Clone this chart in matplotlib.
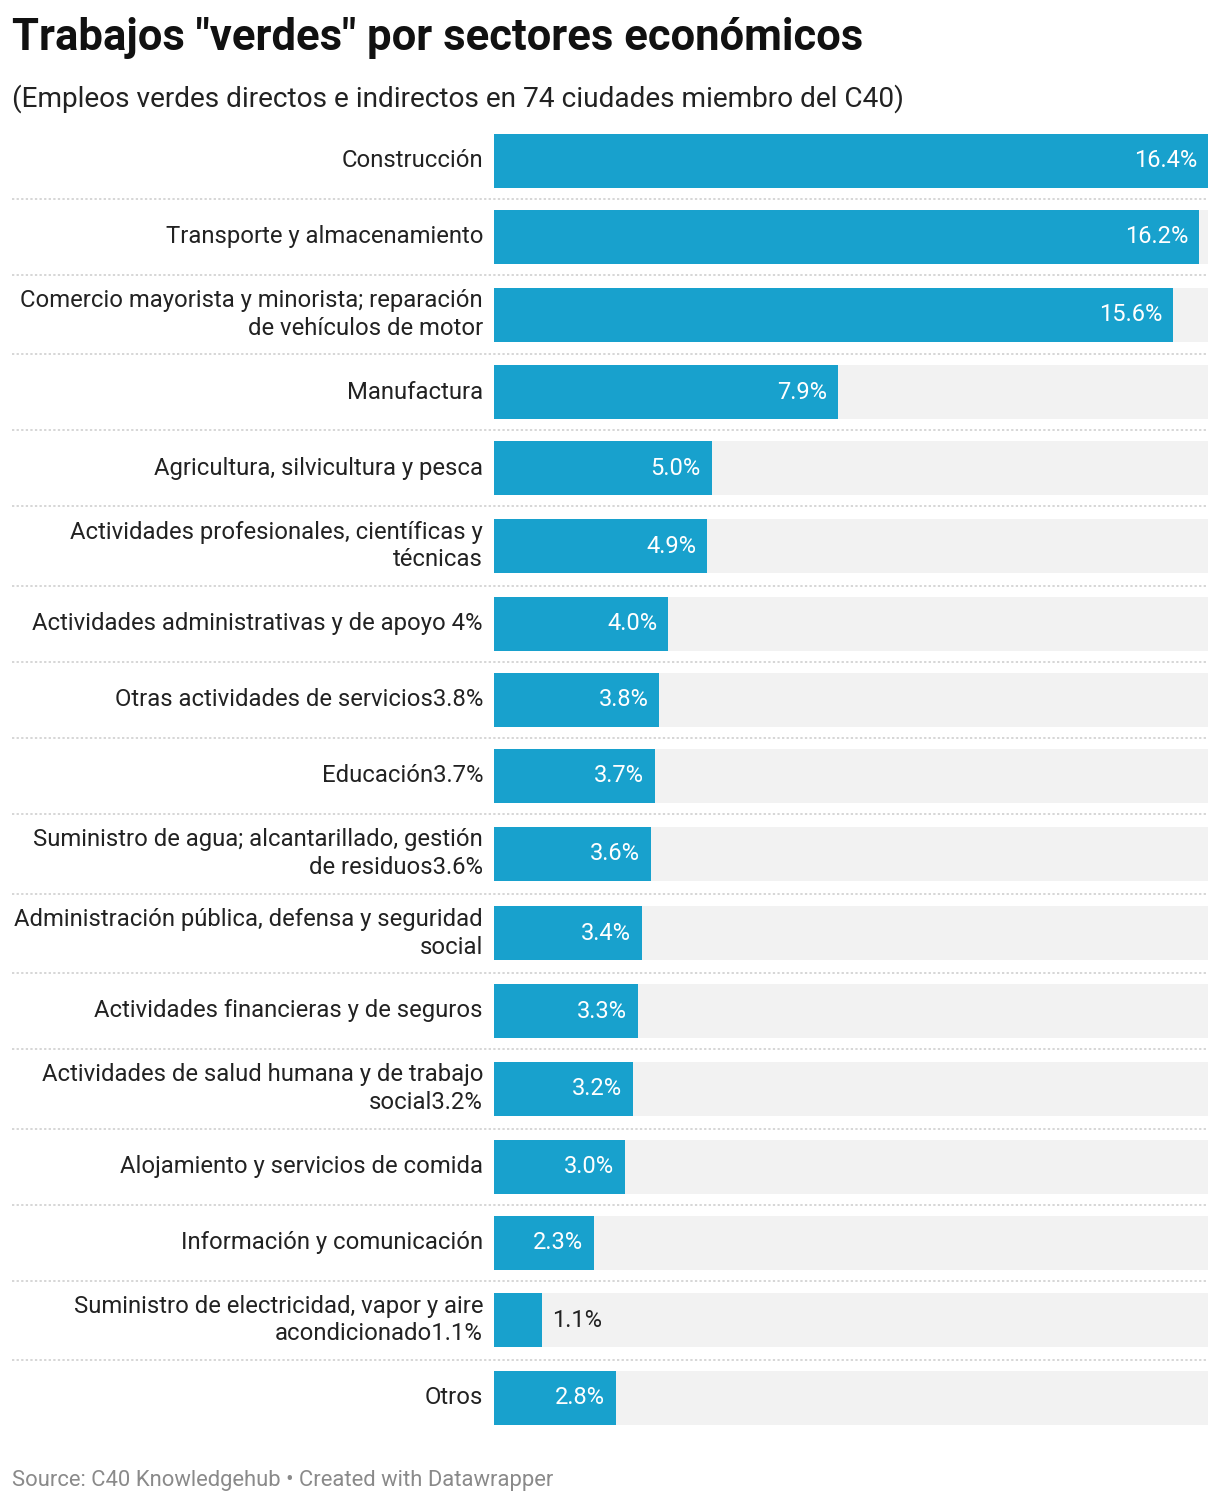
import matplotlib
matplotlib.use("Agg")
import matplotlib.pyplot as plt
from matplotlib.transforms import blended_transform_factory

plt.rcParams['font.family'] = ['Roboto', 'DejaVu Sans']

title = 'Trabajos "verdes" por sectores económicos'
subtitle = '(Empleos verdes directos e indirectos en 74 ciudades miembro del C40)'
source = 'Source: C40 Knowledgehub • Created with Datawrapper'

categories = [
    "Construcción",
    "Transporte y almacenamiento",
    "Comercio mayorista y minorista; reparación\nde vehículos de motor",
    "Manufactura",
    "Agricultura, silvicultura y pesca",
    "Actividades profesionales, científicas y\ntécnicas",
    "Actividades administrativas y de apoyo 4%",
    "Otras actividades de servicios3.8%",
    "Educación3.7%",
    "Suministro de agua; alcantarillado, gestión\nde residuos3.6%",
    "Administración pública, defensa y seguridad\nsocial",
    "Actividades financieras y de seguros",
    "Actividades de salud humana y de trabajo\nsocial3.2%",
    "Alojamiento y servicios de comida",
    "Información y comunicación",
    "Suministro de electricidad, vapor y aire\nacondicionado1.1%",
    "Otros",
]
values = [16.4, 16.2, 15.6, 7.9, 5.0, 4.9, 4.0, 3.8, 3.7, 3.6, 3.4, 3.3, 3.2, 3.0, 2.3, 1.1, 2.8]

W, H = 1220, 1502
fig = plt.figure(figsize=(W / 100, H / 100), dpi=100)
fig.patch.set_facecolor('white')

# layout (pixels)
left_px, right_px = 494, 1208
top_px = 123
row_single, row_double = 76, 79.5
bar_h = 54

heights = [row_double if '\n' in c else row_single for c in categories]
centers = []
acc = 0
for h in heights:
    centers.append(acc + h / 2)
    acc += h
total = acc

ax = fig.add_axes([left_px / W, (H - top_px - total) / H, (right_px - left_px) / W, total / H])
ax.set_xlim(0, max(values))
ax.set_ylim(total, 0)
ax.axis('off')

BLUE = '#18a1cd'
BG = '#f2f2f2'
ax.barh(centers, [max(values)] * len(values), height=bar_h, color=BG, zorder=1)
ax.barh(centers, values, height=bar_h, color=BLUE, zorder=2)

px_per_unit = (right_px - left_px) / max(values)
for c, v, y in zip(categories, values, centers):
    ax.annotate(c, xy=(0, y), xytext=(-11, 0), textcoords='offset pixels',
                ha='right', va='center', fontsize=17.2, color='#222222',
                linespacing=1.25, annotation_clip=False)
    lab = f"{v:.1f}%"
    if v * px_per_unit > 75:
        ax.annotate(lab, xy=(v, y), xytext=(-11, 0), textcoords='offset pixels',
                    ha='right', va='center', fontsize=17, color='white', zorder=3)
    else:
        ax.annotate(lab, xy=(v, y), xytext=(10, 0), textcoords='offset pixels',
                    ha='left', va='center', fontsize=17, color='#222222', zorder=3)

# dotted separators
tr = blended_transform_factory(fig.transFigure, ax.transData)
acc = 0
for h in heights[:-1]:
    acc += h
    ax.plot([12 / W, right_px / W], [acc, acc], transform=tr, color='#cccccc',
            linewidth=1.1, linestyle=(0, (1.5, 1.5)), clip_on=False, zorder=0)

fig.text(12 / W, 1 - 50 / H, title, fontsize=31.4, fontweight='bold', color='#111111',
         ha='left', va='baseline')
fig.text(12 / W, 1 - 107 / H, subtitle, fontsize=20.15, color='#222222',
         ha='left', va='baseline')
fig.text(12 / W, 1 - 1486 / H, source, fontsize=15.8, color='#8a8a8a',
         ha='left', va='baseline')

fig.savefig('out.png', dpi=100, facecolor='white')
